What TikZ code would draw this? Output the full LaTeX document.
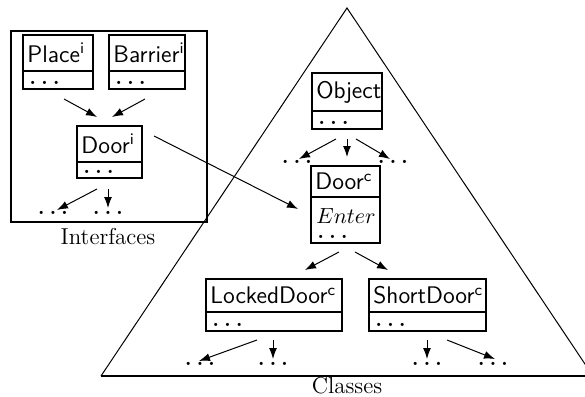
\documentclass[tikz,border=0pt]{standalone}
\usepackage{fontspec}
\usetikzlibrary{arrows.meta,calc,fit}
\newcommand\dts{\textbf{.}\hspace{2.4pt}\textbf{.}\hspace{2.4pt}\textbf{.}}
\newcommand\umlbox[7]{%
  \coordinate (#1nw) at (#2,#3);
  \coordinate (#1se) at (#4,#5);
  \node[boxst, fit=(#1nw)(#1se)] (#1) {};
  \draw[line width=1pt] (#2,#6) -- (#4,#6);
  \node[titlest] (#1t) at (#2+4,{(#3+#6)/2}) {#7};
}
\newcommand\dotsin[3]{\node[dotst] (#1) at (#2,#3) {\dts};}
\begin{document}
\begin{tikzpicture}[x=0.5pt,y=-0.5pt,
  boxst/.style={draw, line width=1pt, inner sep=0pt},
  titlest/.style={anchor=west, inner sep=0pt, font=\sffamily\fontsize{12}{14}\selectfont},
  dotst/.style={anchor=base, inner sep=0pt, font=\fontsize{11}{13}\selectfont},
  arr/.style={line width=0.5pt, -{Latex[length=5.5pt,width=4pt]}},
  lbl/.style={font=\fontsize{11.5}{13}\selectfont, inner sep=0pt}]
\useasboundingbox (0,0) rectangle (585,397);
\begin{scope}
\clip (0,0) rectangle (585,397);
% triangle
\coordinate (apex) at (347,8);
\coordinate (bl) at (101,376);
\coordinate (br) at (593,376);
\draw[line width=0.5pt] (bl) -- (apex) -- (br);
\draw[line width=1pt] (bl) -- (br);
\end{scope}
% interfaces frame
\coordinate (ifnw) at (11,31);
\coordinate (ifse) at (207,222);
\node[boxst, fit=(ifnw)(ifse)] (iframe) {};
\node[lbl] (ilabel) at (108,237) {Interfaces};
\node[lbl] (clabel) at (347,386) {Classes};
% boxes
\umlbox{place}{23}{35}{93}{89}{71}{Place\textsuperscript{i}}
\node[dotst, anchor=base west] (placed) at (29,84) {\dts};
\umlbox{barrier}{109}{35}{185}{89}{71}{Barrier\textsuperscript{i}}
\node[dotst, anchor=base west] (barrierd) at (115,84) {\dts};
\umlbox{doori}{77}{126}{142}{178}{162}{Door\textsuperscript{i}}
\node[dotst, anchor=base west] (doorid) at (83,173) {\dts};
\umlbox{object}{312}{73}{382}{129}{111}{Object}
\node[dotst, anchor=base west] (objectd) at (318,124) {\dts};
\umlbox{doorc}{311}{166}{380}{243}{197}{Door\textsuperscript{c}}
\node[anchor=base west, inner sep=0pt, font=\fontsize{11}{13}\selectfont] (enter) at (316,223) {$Enter$};
\node[dotst, anchor=base west] (doorcd) at (317,238) {\dts};
\umlbox{locked}{206}{279}{342}{331}{312}{LockedDoor\textsuperscript{c}}
\node[dotst, anchor=base west] (lockedd) at (212,326) {\dts};
\umlbox{short}{369}{279}{486}{331}{312}{ShortDoor\textsuperscript{c}}
\node[dotst, anchor=base west] (shortd) at (375,326) {\dts};
% dots targets
\dotsin{di1}{53}{214}
\dotsin{di2}{108}{214}
\dotsin{ob1}{297}{163}
\dotsin{ob2}{393}{163}
\dotsin{ld1}{200}{365}
\dotsin{ld2}{273}{365}
\dotsin{sd1}{427}{365}
\dotsin{sd2}{493}{365}
% arrows
\coordinate (pa1) at (64,99);   \coordinate (pa2) at (97,117);
\coordinate (ba1) at (145,99);  \coordinate (ba2) at (112,117);
\draw[arr] (pa1) -- (pa2);
\draw[arr] (ba1) -- (ba2);
\draw[arr] (97,189) -- (57,210);
\draw[arr] (108,189) -- (108,208);
\draw[arr] (154,136) -- (298,209);
\draw[arr] (336,139) -- (299,159);
\draw[arr] (347,139) -- (347,157);
\draw[arr] (356,139) -- (390,159);
\draw[arr] (339,252) -- (305,270);
\draw[arr] (355,252) -- (388,270);
\draw[arr] (257,340) -- (199,361);
\draw[arr] (273,340) -- (273,359);
\draw[arr] (427,340) -- (427,359);
\draw[arr] (447,340) -- (495,359);
\end{tikzpicture}
\end{document}
